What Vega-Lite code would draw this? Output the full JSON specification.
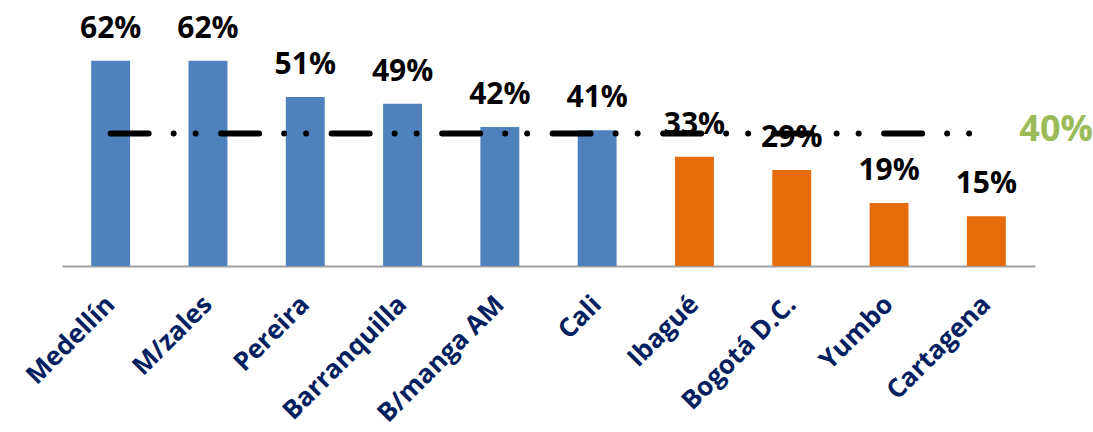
{
  "$schema": "https://vega.github.io/schema/vega-lite/v6.json",
  "width": 973,
  "height": 265,
  "autosize": "none",
  "padding": {"left": 62, "top": 1, "right": 58, "bottom": 166},
  "background": "white",
  "config": {"view": {"stroke": null}},
  "datasets": {
    "cities": [
      {"ciudad": "Medellín", "valor": 0.62, "grupo": "alto"},
      {"ciudad": "M/zales", "valor": 0.62, "grupo": "alto"},
      {"ciudad": "Pereira", "valor": 0.51, "grupo": "alto"},
      {"ciudad": "Barranquilla", "valor": 0.49, "grupo": "alto"},
      {"ciudad": "B/manga AM", "valor": 0.42, "grupo": "alto"},
      {"ciudad": "Cali", "valor": 0.41, "grupo": "alto"},
      {"ciudad": "Ibagué", "valor": 0.33, "grupo": "bajo"},
      {"ciudad": "Bogotá D.C.", "valor": 0.29, "grupo": "bajo"},
      {"ciudad": "Yumbo", "valor": 0.19, "grupo": "bajo"},
      {"ciudad": "Cartagena", "valor": 0.15, "grupo": "bajo"}
    ],
    "meta": [
      {"ciudad": "Medellín", "meta": 0.4},
      {"ciudad": "Cartagena", "meta": 0.4}
    ],
    "etiqueta": [
      {"ciudad": "Cartagena", "meta": 0.4}
    ]
  },
  "encoding": {
    "x": {
      "field": "ciudad",
      "type": "nominal",
      "sort": null,
      "scale": {"domain": ["Medellín", "M/zales", "Pereira", "Barranquilla", "B/manga AM", "Cali", "Ibagué", "Bogotá D.C.", "Yumbo", "Cartagena"], "paddingInner": 0.6, "paddingOuter": 0.3},
      "axis": {
        "title": null,
        "labelAngle": -45,
        "labelAlign": "right",
        "labelBaseline": "middle",
        "labelFont": "Open Sans",
        "labelFontWeight": "bold",
        "labelFontSize": 26,
        "labelColor": "#002060",
        "labelPadding": 34,
        "ticks": false,
        "domainColor": "#a0a0a0",
        "domainWidth": 2,
        "grid": false,
        "labelOverlap": false,
        "labelLimit": 0
      }
    }
  },
  "layer": [
    {
      "data": {"name": "cities"},
      "mark": {"type": "bar"},
      "encoding": {
        "y": {"field": "valor", "type": "quantitative", "scale": {"domain": [0, 0.8]}, "axis": null},
        "color": {"field": "grupo", "type": "nominal", "scale": {"domain": ["alto", "bajo"], "range": ["#4F81BD", "#E46C0A"]}, "legend": null}
      }
    },
    {
      "data": {"name": "cities"},
      "mark": {"type": "text", "font": "Open Sans", "fontWeight": "bold", "fontSize": 30, "color": "#000000", "baseline": "alphabetic", "align": "center", "dy": -23},
      "encoding": {
        "y": {"field": "valor", "type": "quantitative"},
        "text": {"field": "valor", "type": "quantitative", "format": ".0%"}
      }
    },
    {
      "data": {"name": "meta"},
      "mark": {"type": "line", "color": "#000000", "strokeWidth": 6, "strokeCap": "round", "strokeDash": [38, 25, 0, 22, 0, 25.5]},
      "encoding": {
        "y": {"field": "meta", "type": "quantitative"}
      }
    },
    {
      "data": {"name": "etiqueta"},
      "mark": {"type": "text", "font": "Open Sans", "fontWeight": "bold", "fontSize": 36, "color": "#9BBB59", "baseline": "alphabetic", "align": "left", "dx": 33, "dy": 7},
      "encoding": {
        "y": {"field": "meta", "type": "quantitative"},
        "text": {"field": "meta", "type": "quantitative", "format": ".0%"}
      }
    }
  ]
}
